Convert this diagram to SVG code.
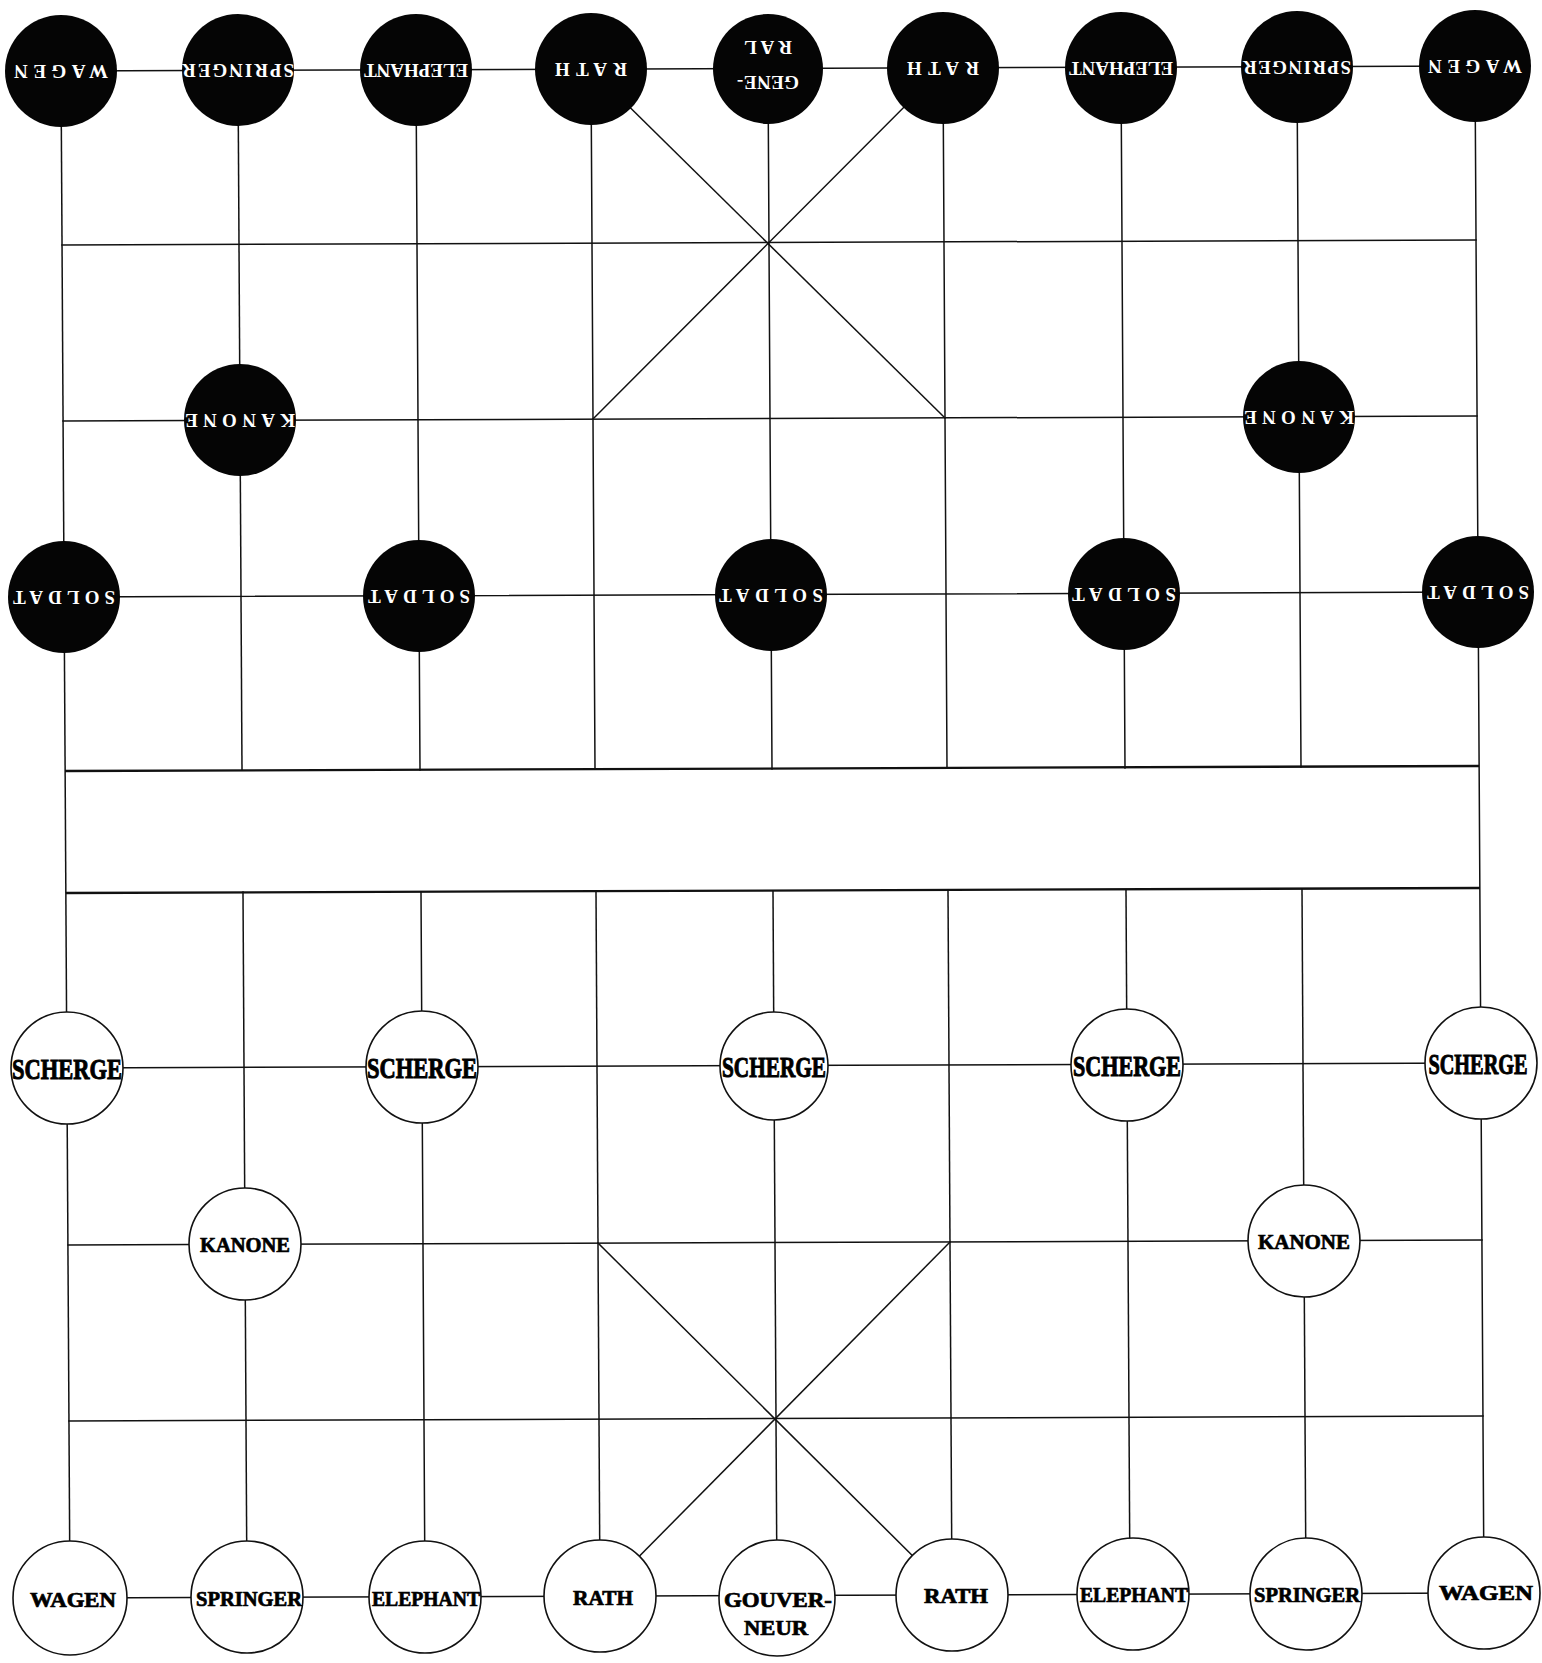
<svg xmlns="http://www.w3.org/2000/svg" width="1542" height="1663" viewBox="0 0 1542 1663">
<style>
.ln{stroke:#111;stroke-width:1.5;fill:none;stroke-linecap:square}
.rv{stroke:#111;stroke-width:2.3;fill:none}
.bc{fill:#050505}
.wc{fill:#fff;stroke:#111;stroke-width:1.6}
.bt{font-family:"Liberation Serif","DejaVu Serif",serif;font-weight:bold;fill:#fff;font-size:19px;text-anchor:middle;dominant-baseline:central}
.wt{font-family:"Liberation Serif","DejaVu Serif",serif;font-weight:bold;fill:#000;stroke:#000;stroke-width:0.7;font-size:20px;text-anchor:middle;dominant-baseline:central}
.sc{font-size:29px;stroke-width:1}
</style>
<rect width="1542" height="1663" fill="#fff"/>
<g id="connectors">
<line class="ln" x1="61" y1="71" x2="1475" y2="66"/>
<line class="ln" x1="62" y1="245" x2="1476" y2="240"/>
<line class="ln" x1="63" y1="421" x2="1477" y2="416"/>
<line class="ln" x1="64" y1="597" x2="1478" y2="592"/>
<line class="rv" x1="65" y1="771" x2="1479" y2="766"/>
<line class="rv" x1="66" y1="893" x2="1480" y2="888"/>
<line class="ln" x1="67" y1="1068" x2="1481" y2="1063"/>
<line class="ln" x1="68" y1="1245" x2="1482" y2="1240"/>
<line class="ln" x1="69" y1="1421" x2="1483" y2="1416"/>
<line class="ln" x1="70" y1="1598" x2="1484" y2="1593"/>
<line class="ln" x1="61" y1="71" x2="70" y2="1598"/>
<line class="ln" x1="1475" y1="66" x2="1484" y2="1593"/>
<line class="ln" x1="238" y1="70" x2="242" y2="770"/>
<line class="ln" x1="416" y1="70" x2="420" y2="770"/>
<line class="ln" x1="591" y1="69" x2="595" y2="769"/>
<line class="ln" x1="768" y1="69" x2="772" y2="769"/>
<line class="ln" x1="943" y1="68" x2="947" y2="768"/>
<line class="ln" x1="1121" y1="68" x2="1125" y2="768"/>
<line class="ln" x1="1297" y1="67" x2="1301" y2="767"/>
<line class="ln" x1="243" y1="892" x2="247" y2="1597"/>
<line class="ln" x1="421" y1="892" x2="425" y2="1597"/>
<line class="ln" x1="596" y1="891" x2="600" y2="1596"/>
<line class="ln" x1="773" y1="891" x2="777" y2="1596"/>
<line class="ln" x1="948" y1="890" x2="952" y2="1595"/>
<line class="ln" x1="1126" y1="890" x2="1130" y2="1595"/>
<line class="ln" x1="1302" y1="889" x2="1306" y2="1594"/>
<line class="ln" x1="591" y1="69" x2="945" y2="418"/>
<line class="ln" x1="943" y1="68" x2="593" y2="419"/>
<line class="ln" x1="598" y1="1243" x2="952" y2="1595"/>
<line class="ln" x1="950" y1="1242" x2="600" y2="1596"/>
</g>

<g id="black-wagen-left"><circle class="bc" cx="61" cy="71" r="56"/><text class="bt" x="61" y="71" transform="rotate(180 61 71)" textLength="94" lengthAdjust="spacing">WAGEN</text></g>
<g id="black-springer-left"><circle class="bc" cx="238" cy="70" r="56"/><text class="bt" x="238" y="70" transform="rotate(180 238 70)" textLength="112" lengthAdjust="spacing">SPRINGER</text></g>
<g id="black-elephant-left"><circle class="bc" cx="416" cy="70" r="56"/><text class="bt" x="416" y="70" transform="rotate(180 416 70)" textLength="104" lengthAdjust="spacing">ELEPHANT</text></g>
<g id="black-rath-left"><circle class="bc" cx="591" cy="69" r="56"/><text class="bt" x="591" y="69" transform="rotate(180 591 69)" textLength="72" lengthAdjust="spacing">RATH</text></g>
<g id="black-general"><circle class="bc" cx="768" cy="69" r="55"/><g transform="rotate(180 768 69)"><text class="bt" x="768" y="56" textLength="62" lengthAdjust="spacing">GENE-</text><text class="bt" x="768" y="91" textLength="48" lengthAdjust="spacing">RAL</text></g></g>
<g id="black-rath-right"><circle class="bc" cx="943" cy="68" r="56"/><text class="bt" x="943" y="68" transform="rotate(180 943 68)" textLength="72" lengthAdjust="spacing">RATH</text></g>
<g id="black-elephant-right"><circle class="bc" cx="1121" cy="68" r="56"/><text class="bt" x="1121" y="68" transform="rotate(180 1121 68)" textLength="104" lengthAdjust="spacing">ELEPHANT</text></g>
<g id="black-springer-right"><circle class="bc" cx="1297" cy="67" r="56"/><text class="bt" x="1297" y="67" transform="rotate(180 1297 67)" textLength="108" lengthAdjust="spacing">SPRINGER</text></g>
<g id="black-wagen-right"><circle class="bc" cx="1475" cy="66" r="56"/><text class="bt" x="1475" y="66" transform="rotate(180 1475 66)" textLength="94" lengthAdjust="spacing">WAGEN</text></g>
<g id="black-kanone-left"><circle class="bc" cx="240" cy="420" r="56"/><text class="bt" x="240" y="420" transform="rotate(180 240 420)" textLength="110" lengthAdjust="spacing">KANONE</text></g>
<g id="black-kanone-right"><circle class="bc" cx="1299" cy="417" r="56"/><text class="bt" x="1299" y="417" transform="rotate(180 1299 417)" textLength="110" lengthAdjust="spacing">KANONE</text></g>
<g id="black-soldat-1"><circle class="bc" cx="64" cy="597" r="56"/><text class="bt" x="64" y="597" transform="rotate(180 64 597)" textLength="102" lengthAdjust="spacing">SOLDAT</text></g>
<g id="black-soldat-2"><circle class="bc" cx="419" cy="596" r="56"/><text class="bt" x="419" y="596" transform="rotate(180 419 596)" textLength="102" lengthAdjust="spacing">SOLDAT</text></g>
<g id="black-soldat-3"><circle class="bc" cx="771" cy="595" r="56"/><text class="bt" x="771" y="595" transform="rotate(180 771 595)" textLength="104" lengthAdjust="spacing">SOLDAT</text></g>
<g id="black-soldat-4"><circle class="bc" cx="1124" cy="594" r="56"/><text class="bt" x="1124" y="594" transform="rotate(180 1124 594)" textLength="104" lengthAdjust="spacing">SOLDAT</text></g>
<g id="black-soldat-5"><circle class="bc" cx="1478" cy="592" r="56"/><text class="bt" x="1478" y="592" transform="rotate(180 1478 592)" textLength="102" lengthAdjust="spacing">SOLDAT</text></g>

<g id="white-scherge-1"><circle class="wc" cx="67" cy="1068" r="56"/><text class="wt sc" x="67" y="1069" textLength="110" lengthAdjust="spacingAndGlyphs">SCHERGE</text></g>
<g id="white-scherge-2"><circle class="wc" cx="422" cy="1067" r="56"/><text class="wt sc" x="422" y="1068" textLength="110" lengthAdjust="spacingAndGlyphs">SCHERGE</text></g>
<g id="white-scherge-3"><circle class="wc" cx="774" cy="1066" r="54"/><text class="wt sc" x="774" y="1067" textLength="104" lengthAdjust="spacingAndGlyphs">SCHERGE</text></g>
<g id="white-scherge-4"><circle class="wc" cx="1127" cy="1065" r="56"/><text class="wt sc" x="1127" y="1066" textLength="108" lengthAdjust="spacingAndGlyphs">SCHERGE</text></g>
<g id="white-scherge-5"><circle class="wc" cx="1481" cy="1063" r="56"/><text class="wt sc" x="0" y="0" transform="translate(1478 1064) scale(0.7 1)">SCHERGE</text></g>
<g id="white-kanone-left"><circle class="wc" cx="245" cy="1244" r="56"/><text class="wt" x="245" y="1245" textLength="90" lengthAdjust="spacingAndGlyphs">KANONE</text></g>
<g id="white-kanone-right"><circle class="wc" cx="1304" cy="1241" r="56"/><text class="wt" x="1304" y="1242" textLength="92" lengthAdjust="spacingAndGlyphs">KANONE</text></g>
<g id="white-wagen-left"><circle class="wc" cx="70" cy="1598" r="57"/><text class="wt" x="73" y="1600" textLength="86" lengthAdjust="spacingAndGlyphs">WAGEN</text></g>
<g id="white-springer-left"><circle class="wc" cx="247" cy="1597" r="56"/><text class="wt" x="249" y="1599" textLength="106" lengthAdjust="spacingAndGlyphs">SPRINGER</text></g>
<g id="white-elephant-left"><circle class="wc" cx="425" cy="1597" r="56"/><text class="wt" x="426" y="1599" textLength="108" lengthAdjust="spacingAndGlyphs">ELEPHANT</text></g>
<g id="white-rath-left"><circle class="wc" cx="600" cy="1596" r="56"/><text class="wt" x="603" y="1598" textLength="60" lengthAdjust="spacingAndGlyphs">RATH</text></g>
<g id="white-gouverneur"><circle class="wc" cx="777" cy="1598" r="58"/><text class="wt" x="778" y="1600" textLength="108" lengthAdjust="spacingAndGlyphs">GOUVER-</text><text class="wt" x="776" y="1628" textLength="64" lengthAdjust="spacingAndGlyphs">NEUR</text></g>
<g id="white-rath-right"><circle class="wc" cx="952" cy="1595" r="56"/><text class="wt" x="956" y="1596" textLength="64" lengthAdjust="spacingAndGlyphs">RATH</text></g>
<g id="white-elephant-right"><circle class="wc" cx="1133" cy="1594" r="56"/><text class="wt" x="1134" y="1595" textLength="108" lengthAdjust="spacingAndGlyphs">ELEPHANT</text></g>
<g id="white-springer-right"><circle class="wc" cx="1306" cy="1594" r="56"/><text class="wt" x="1307" y="1595" textLength="106" lengthAdjust="spacingAndGlyphs">SPRINGER</text></g>
<g id="white-wagen-right"><circle class="wc" cx="1484" cy="1593" r="56"/><text class="wt" x="1486" y="1593" textLength="94" lengthAdjust="spacingAndGlyphs">WAGEN</text></g>
</svg>
